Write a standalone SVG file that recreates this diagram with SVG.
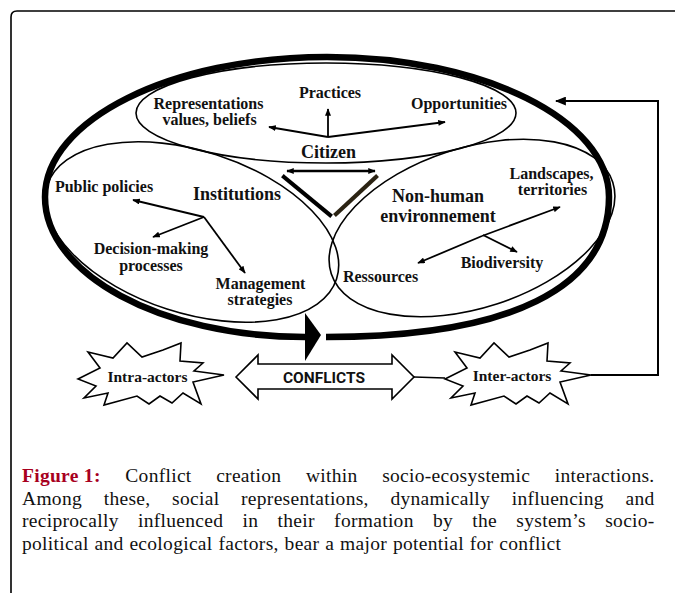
<svg xmlns="http://www.w3.org/2000/svg" width="675" height="593" viewBox="0 0 675 593">
<style>
.lbl{font-family:"Liberation Serif","Times New Roman",serif;font-weight:bold;font-size:16px;fill:#111;text-anchor:middle}
.big{font-size:18px}
.thin{fill:none;stroke:#000;stroke-width:1.6}
.arr{fill:none;stroke:#000;stroke-width:1.8}
.cap{font-family:"Liberation Serif","Times New Roman",serif;font-size:19.5px;fill:#111;letter-spacing:0.3px}
</style>
<defs>
<marker id="ah" viewBox="0 0 10 8" refX="9" refY="4" markerWidth="8" markerHeight="6" markerUnits="userSpaceOnUse" orient="auto-start-reverse"><path d="M0,0 L10,4 L0,8 Z" fill="#000"/></marker>
<marker id="ahb" viewBox="0 0 10 8" refX="9" refY="4" markerWidth="11" markerHeight="9" markerUnits="userSpaceOnUse" orient="auto"><path d="M0,0 L10,4 L0,8 Z" fill="#000"/></marker>
</defs>
<rect width="675" height="593" fill="#fff"/>
<path id="frame" d="M11,593 L11,17 Q11,11 17,11 L675,11" fill="none" stroke="#000" stroke-width="1.6"/>

<g id="cycle">
<path d="M326,337 C510,337 609,288 609,197 C609,120 483,57 327,57 C171,57 45,120 45,197 C45,274 160,337 305,337" fill="none" stroke="#000" stroke-width="6.5"/>
<polygon points="305,313 321,335 305,361" fill="#000"/>
</g>

<g id="citizen">
<ellipse class="thin" cx="326" cy="113" rx="190" ry="50"/>
<path class="arr" d="M328,137 L328,109" marker-end="url(#ah)"/>
<path class="arr" d="M328,137 L269,127" marker-end="url(#ah)"/>
<path class="arr" d="M328,137 L445,122" marker-end="url(#ah)"/>
<text class="lbl" x="208.5" y="109">Representations</text>
<text class="lbl" x="209.5" y="125">values, beliefs</text>
<text class="lbl" x="330" y="98">Practices</text>
<text class="lbl" x="459" y="109">Opportunities</text>
<text class="lbl big" x="328.5" y="157.5">Citizen</text>
</g>

<g id="institutions">
<ellipse class="thin" cx="192" cy="232" rx="152" ry="81" transform="rotate(18 192 232)"/>
<path class="arr" d="M204,217 L133,200" marker-end="url(#ah)"/>
<path class="arr" d="M204,217 L153,237" marker-end="url(#ah)"/>
<path class="arr" d="M204,217 L245,273" marker-end="url(#ah)"/>
<text class="lbl" x="104" y="192">Public policies</text>
<text class="lbl big" x="237" y="200">Institutions</text>
<text class="lbl" x="151" y="254">Decision-making</text>
<text class="lbl" x="151" y="271">processes</text>
<text class="lbl" x="260.5" y="289">Management</text>
<text class="lbl" x="260" y="305">strategies</text>
</g>

<g id="environment">
<ellipse class="thin" cx="472" cy="228" rx="148" ry="80" transform="rotate(-18 472 228)"/>
<path class="arr" d="M482,236 L560,207" marker-end="url(#ah)"/>
<path class="arr" d="M482,236 L418,263" marker-end="url(#ah)"/>
<path class="arr" d="M483,235 L517,252" marker-end="url(#ah)"/>
<text class="lbl" x="551.5" y="179">Landscapes,</text>
<text class="lbl" x="552.5" y="195">territories</text>
<text class="lbl big" x="438" y="202">Non-human</text>
<text class="lbl big" x="438" y="222">environnement</text>
<text class="lbl" x="502" y="268">Biodiversity</text>
<text class="lbl" x="380.5" y="282">Ressources</text>
</g>

<g id="triangle">
<path d="M287,171 L375,171" fill="none" stroke="#000" stroke-width="2.6" marker-start="url(#ah)" marker-end="url(#ah)"/>
<path d="M284,177 L330,215" fill="none" stroke="#000" stroke-width="4.2" stroke-linecap="square"/>
<path d="M376,177 L336,214" fill="none" stroke="#2b2313" stroke-width="4.2" stroke-linecap="square"/>
</g>

<g id="intra-actors">
<polygon points="78,379 100,368 88,352 113,358 127,343 142,357 163,350 181,343 180,361 203,363 194,371 224,375 193,382 201,404 183,393 172,403 160,396 149,404 137,396 104,405 108,393 84,398 96,386" fill="#fff" stroke="#000" stroke-width="1.6" stroke-linejoin="miter"/>
<text class="lbl" x="147.5" y="382" style="font-size:15.5px">Intra-actors</text>
</g>

<g id="conflicts">
<polygon points="236,377 258,355 258,364 392,364 392,355 414,377 392,399 392,389 258,389 258,399" fill="#fff" stroke="#000" stroke-width="1.6"/>
<text x="324" y="383" style="font-family:Roboto,'Liberation Sans',sans-serif;font-weight:bold;font-size:15.5px;text-anchor:middle;fill:#111">CONFLICTS</text>
</g>

<g id="inter-actors">
<polygon transform="translate(367,0)" points="78,379 100,368 88,352 113,358 127,343 142,357 163,350 181,343 180,361 203,363 194,371 224,375 193,382 201,404 183,393 172,403 160,396 149,404 137,396 104,405 108,393 84,398 96,386" fill="#fff" stroke="#000" stroke-width="1.6"/>
<text class="lbl" x="512" y="381" style="font-size:15.5px">Inter-actors</text>
</g>

<g id="connectors">
<path d="M414,377 L445,378" fill="none" stroke="#000" stroke-width="1.6"/>
<path d="M591,375 L658,375 L658,101 L556,101" fill="none" stroke="#000" stroke-width="2" marker-end="url(#ahb)"/>
</g>

<g id="caption">
<text class="cap" x="22" y="482" style="word-spacing:19.4px"><tspan font-weight="bold" fill="#a8001e" style="word-spacing:0px">Figure 1:</tspan> Conflict creation within socio-ecosystemic interactions.</text>
<text class="cap" x="22" y="504.5" style="word-spacing:16.5px">Among these, social representations, dynamically influencing and</text>
<text class="cap" x="22" y="527" style="word-spacing:14.1px">reciprocally influenced in their formation by the system’s socio-</text>
<text class="cap" x="22" y="549.5" style="word-spacing:0.7px">political and ecological factors, bear a major potential for conflict</text>
</g>
</svg>
